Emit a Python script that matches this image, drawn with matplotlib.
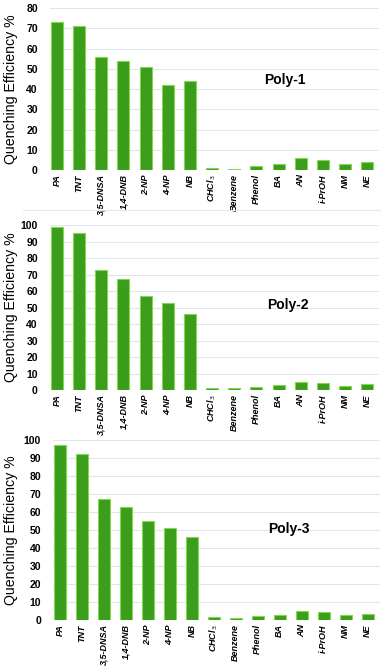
import matplotlib
matplotlib.use("Agg")
import matplotlib.pyplot as plt
from matplotlib.lines import Line2D

# Analytes (x categories)
analytes = ['PA', 'TNT', '3,5-DNSA', '1,4-DNB', '2-NP', '4-NP', 'NB',
            'CHCl$_3$', 'Benzene', 'Phenol', 'BA', 'AN', 'i-PrOH', 'NM', 'NE']

# Quenching efficiency (%) for each polymer
poly1 = [73, 71, 56, 54, 51, 42, 44, 1, 0.5, 2, 3, 6, 5, 3, 4]
poly2 = [99, 95, 73, 67, 57, 53, 46, 1.5, 1, 2, 3, 5, 4, 2.5, 3.5]
poly3 = [97, 92, 67, 63, 55, 51, 46, 1.5, 1, 2, 3, 5, 4.5, 2.8, 3.5]

names = ['Poly-1', 'Poly-2', 'Poly-3']
series = [poly1, poly2, poly3]
ymax = [80, 100, 100]

plt.rcParams['font.family'] = ['Liberation Sans', 'DejaVu Sans']

fig = plt.figure(figsize=(3.84, 6.66), dpi=100)

# axes boxes in figure fraction: left, bottom, width, height
boxes = [
    [0.131, 0.7447, 0.857, 0.2432],
    [0.131, 0.4144, 0.857, 0.2477],
    [0.139, 0.0691, 0.850, 0.2703],
]
label_pos = [(10.3, 44.5), (10.4, 51.5), (10.4, 50.5)]

x = list(range(len(analytes)))
for i in range(3):
    ax = fig.add_axes(boxes[i])
    ax.bar(x, series[i], width=0.54, color='#3a9e1c', edgecolor='#86d650',
           linewidth=0.8, zorder=3)
    ax.set_xlim(-0.3, 14.55)
    ax.set_ylim(0, ymax[i])
    ax.set_yticks(range(0, ymax[i] + 1, 10))
    ax.yaxis.grid(True, color='#dfe6ee', linewidth=0.8, zorder=0)
    for s in ax.spines.values():
        s.set_visible(False)
    ax.tick_params(axis='both', length=0)
    ax.tick_params(axis='y', pad=9, labelsize=7.5)
    ax.tick_params(axis='x', pad=3)
    ax.set_xticks(x)
    ax.set_xticklabels(analytes, rotation=90, fontsize=6.5, fontweight='bold',
                       style='italic')
    for t in ax.get_yticklabels():
        t.set_fontweight('bold')
    ax.set_ylabel('Quenching Efficiency %', fontsize=10.2, va='center')
    # put the label centre about 11 px from the left edge of the figure
    left_px = boxes[i][0] * 384
    width_px = boxes[i][2] * 384
    ax.yaxis.set_label_coords((11 - left_px) / width_px, 0.5)
    ax.text(label_pos[i][0], label_pos[i][1], names[i], fontsize=10,
            fontweight='bold', ha='center', va='center')

# faint frame line under the first panel
fig.add_artist(Line2D([23 / 384, 380 / 384], [1 - 210 / 666, 1 - 210 / 666],
                      color='#e3e8ee', linewidth=0.8))

plt.savefig('out.png', dpi=100)
